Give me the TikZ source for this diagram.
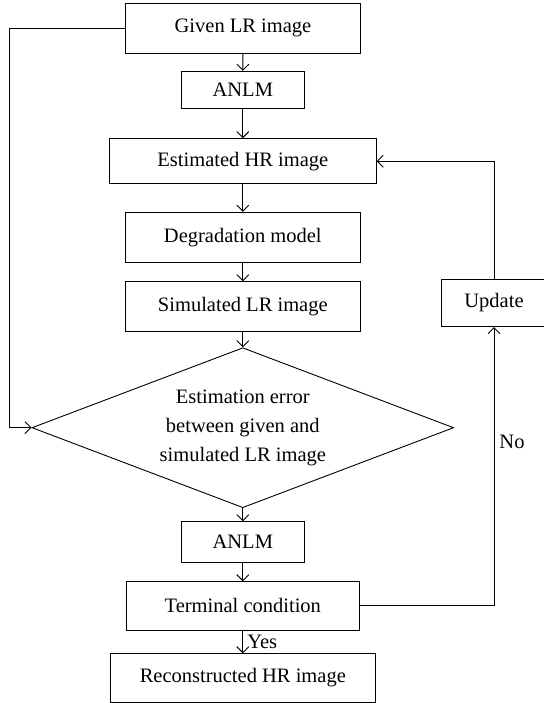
\documentclass[tikz,border=0pt]{standalone}
\usepackage{fontspec}
\setmainfont{Liberation Serif}
\usetikzlibrary{shapes.geometric,arrows.meta}
\begin{document}
\begin{tikzpicture}[x=1pt,y=1pt]
		\tikzstyle{every node}+=[inner sep=0pt,font=\fontsize{20.5}{29}\selectfont]
		\tikzstyle{block}=[draw,line width=0.9pt,align=center]
		\tikzstyle{link}=[line width=0.9pt,-{Straight Barb[length=6pt,width=12pt]}]
		\useasboundingbox (0,0) rectangle (543,-703);
		\node [block,minimum width=235.5,minimum height=50] (given) at (243,-28.3) {Given LR image};
		\node [block,minimum width=123.7,minimum height=37.4] (anlmA) at (242.8,-90) {ANLM};
		\node [block,minimum width=266.7,minimum height=45.3] (est) at (242.8,-161.3) {Estimated HR image};
		\node [block,minimum width=235.5,minimum height=50] (degr) at (242.8,-237.2) {Degradation model};
		\node [block,minimum width=235.5,minimum height=50] (simu) at (242.8,-306.7) {Simulated LR image};
		\node [block,shape=diamond,aspect=2.64,minimum width=421.7,minimum height=160] (diam) at (242.8,-427.7) {Estimation error\\between given and\\simulated LR image};
		\node [block,minimum width=123.3,minimum height=41] (anlmB) at (242.8,-542.2) {ANLM};
		\node [block,minimum width=233,minimum height=48.3] (term) at (242.8,-605.9) {Terminal condition};
		\node [block,minimum width=265,minimum height=48.3] (recon) at (242.8,-677.9) {Reconstructed HR image};
		\node [block,minimum width=105,minimum height=47.7] (update) at (494,-302.8) {Update};
		\draw [link] (given) -- (anlmA);
		\draw [link] (anlmA) -- (est);
		\draw [link] (est) -- (degr);
		\draw [link] (degr) -- (simu);
		\draw [link] (simu) -- (diam);
		\draw [link] (diam) -- (anlmB);
		\draw [link] (anlmB) -- (term);
		\draw [link] (term) -- node [right=4pt] {Yes} (recon);
		\draw [link] (given.west) -- ++(-115.7,0) |- (diam.west);
		\draw [link] (term.east) -| node [pos=0.795,right=5pt] {No} (update.south);
		\draw [link] (update.north) |- (est.east);
	\end{tikzpicture}
\end{document}
